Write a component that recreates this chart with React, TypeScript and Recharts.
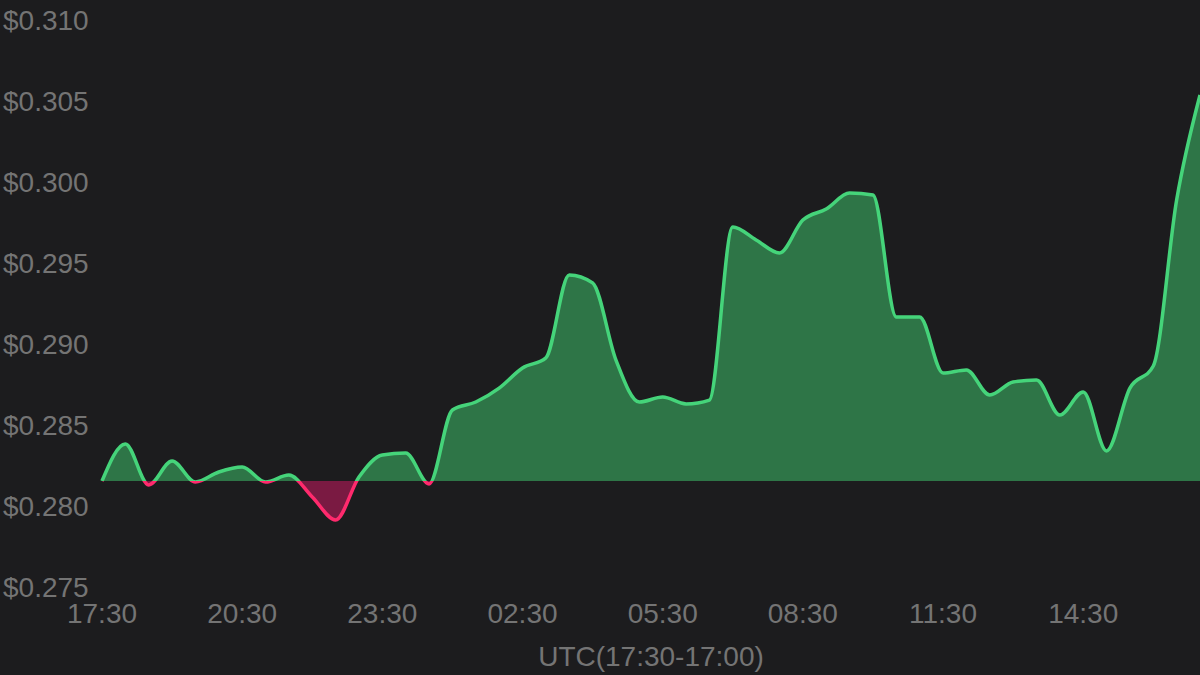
import React from 'react';
import { AreaChart, Area, XAxis, YAxis } from 'recharts';

const hours = [
  0, 0.5, 1, 1.5, 2, 2.5, 3, 3.5, 4, 4.5, 5, 5.5, 6, 6.5, 7, 7.5,
  8, 8.5, 9, 9.5, 10, 10.5, 11, 11.5, 12, 12.5, 13, 13.5, 14, 14.5, 15, 15.5,
  16, 16.5, 17, 17.5, 18, 18.5, 19, 19.5, 20, 20.5, 21, 21.5, 22, 22.5, 23, 23.5,
];

const prices = [
  0.28154, 0.28383, 0.2813, 0.28278, 0.28148, 0.2821, 0.28241, 0.28148,
  0.28191, 0.28056, 0.27914, 0.28179, 0.28315, 0.28327, 0.28136, 0.28593,
  0.28642, 0.28728, 0.28852, 0.28914, 0.29426, 0.29377, 0.28901, 0.28642,
  0.28673, 0.2863, 0.28654, 0.29722, 0.29642, 0.29562, 0.29765, 0.29833,
  0.29932, 0.2992, 0.29167, 0.29167, 0.28821, 0.2884, 0.28685, 0.28765,
  0.28778, 0.28562, 0.28704, 0.2834, 0.28728, 0.28864, 0.29889, 0.30537,
];

const BASE_PRICE = 0.28154;

const yTicks = [0.275, 0.28, 0.285, 0.29, 0.295, 0.3, 0.305, 0.31];
const xTicks = [0, 3, 6, 9, 12, 15, 18, 21];
const xTickLabels = ['17:30', '20:30', '23:30', '02:30', '05:30', '08:30', '11:30', '14:30'];
const xAxisTitle = 'UTC(17:30-17:00)';

const data = hours.map((h, i) => ({ h, price: prices[i] }));

const maxP = Math.max(...prices);
const minP = Math.min(...prices);
const splitOffset = (maxP - BASE_PRICE) / (maxP - minP);

const FONT = "'Liberation Sans', Arial, sans-serif";
const LABEL_COLOR = '#747474';
const FONT_SIZE = 28;

const YTick = (props: any) => {
  const { y, payload } = props;
  return (
    <text x={3} y={y} fill={LABEL_COLOR} fontSize={FONT_SIZE} fontFamily={FONT} dominantBaseline="central">
      {'$' + Number(payload.value).toFixed(3)}
    </text>
  );
};

const XTick = (props: any) => {
  const { x, y, payload } = props;
  const idx = xTicks.indexOf(payload.value);
  return (
    <text x={x} y={y + 26} fill={LABEL_COLOR} fontSize={FONT_SIZE} fontFamily={FONT} textAnchor="middle" dominantBaseline="central">
      {idx >= 0 ? xTickLabels[idx] : ''}
    </text>
  );
};

const XTitle = (props: any) => {
  const vb = props.viewBox || {};
  return (
    <text
      x={vb.x + vb.width / 2}
      y={vb.y + 69}
      fill={LABEL_COLOR}
      fontSize={FONT_SIZE}
      fontFamily={FONT}
      textAnchor="middle"
      dominantBaseline="central"
    >
      {xAxisTitle}
    </text>
  );
};

export default function App() {
  return (
    <div style={{ position: 'absolute', left: 0, top: 0, width: 1200, height: 675, background: '#1c1c1e' }}>
      <AreaChart width={1200} height={675} data={data} margin={{ top: 20, right: 0, bottom: 0, left: 0 }}>
        <defs>
          <linearGradient id="strokeSplit" x1="0" y1="0" x2="0" y2="1">
            <stop offset={0} stopColor="#45d47a" />
            <stop offset={splitOffset} stopColor="#45d47a" />
            <stop offset={splitOffset} stopColor="#ff2a6d" />
            <stop offset={1} stopColor="#ff2a6d" />
          </linearGradient>
          <linearGradient id="fillSplit" x1="0" y1="0" x2="0" y2="1">
            <stop offset={0} stopColor="#2e7547" />
            <stop offset={splitOffset} stopColor="#2e7547" />
            <stop offset={splitOffset} stopColor="#7a1a42" />
            <stop offset={1} stopColor="#7a1a42" />
          </linearGradient>
        </defs>
        <XAxis
          dataKey="h"
          type="number"
          domain={[0, 23.5]}
          ticks={xTicks}
          tick={<XTick />}
          tickLine={false}
          axisLine={false}
          tickSize={0}
          tickMargin={0}
          height={88}
          interval={0}
          label={<XTitle />}
        />
        <YAxis
          type="number"
          domain={[0.275, 0.31]}
          ticks={yTicks}
          tick={<YTick />}
          tickLine={false}
          axisLine={false}
          width={102}
          interval={0}
          allowDataOverflow
        />
        <Area
          type="monotone"
          dataKey="price"
          baseValue={BASE_PRICE}
          stroke="url(#strokeSplit)"
          strokeWidth={3.5}
          fill="url(#fillSplit)"
          fillOpacity={1}
          dot={false}
          activeDot={false}
          isAnimationActive={false}
        />
      </AreaChart>
    </div>
  );
}
